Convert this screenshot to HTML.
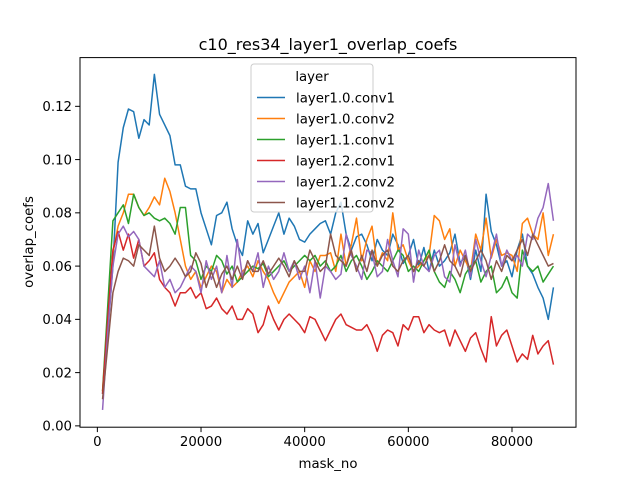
<!DOCTYPE html>
<html><head><meta charset="utf-8"><style>
body{margin:0;background:#fff}
svg text{font-family:"DejaVu Sans","Liberation Sans",sans-serif;fill:#000}
</style></head><body>
<svg id="chart" width="640" height="480" xmlns="http://www.w3.org/2000/svg">
<rect width="640" height="480" fill="#fff"/>
<text x="328" y="50" font-size="16" text-anchor="middle">c10_res34_layer1_overlap_coefs</text>
<text x="328" y="468" font-size="13.3" text-anchor="middle">mask_no</text>
<text transform="translate(33,242) rotate(-90)" font-size="13.3" text-anchor="middle">overlap_coefs</text>
<g id="ticks"></g>
<g id="lines"></g>
<rect x="80" y="57.6" width="496" height="369.6" fill="none" stroke="#000" stroke-width="1"/>
<g id="legend"></g>
</svg>
<script>
const maskNo = [];
for (let i = 1; i <= 88; i++) maskNo.push(i * 1000);
const seriesNames = ["layer1.0.conv1","layer1.0.conv2","layer1.1.conv1","layer1.2.conv1","layer1.2.conv2","layer1.1.conv2"];
const seriesColors = ["#1f77b4","#ff7f0e","#2ca02c","#d62728","#9467bd","#8c564b"];
const xTicks = [0,20000,40000,60000,80000];
const yTicks = [0,0.02,0.04,0.06,0.08,0.10,0.12];
const s10 = [0.012,0.035,0.060,0.099,0.112,0.119,0.118,0.108,0.115,0.113,
0.132,0.117,0.113,0.109,0.098,0.098,0.090,0.089,0.089,0.080,
0.074,0.068,0.079,0.080,0.084,0.074,0.068,0.064,0.077,0.072,
0.076,0.065,0.070,0.075,0.080,0.072,0.078,0.075,0.070,0.069,
0.072,0.074,0.076,0.077,0.072,0.080,0.084,0.072,0.066,0.071,
0.072,0.068,0.062,0.070,0.066,0.064,0.072,0.068,0.061,0.064,
0.070,0.060,0.067,0.058,0.066,0.060,0.062,0.065,0.072,0.061,
0.064,0.055,0.066,0.058,0.087,0.073,0.068,0.060,0.062,0.056,
0.066,0.072,0.060,0.057,0.052,0.048,0.040,0.052];
const s11 = [0.013,0.040,0.065,0.075,0.080,0.087,0.087,0.082,0.079,0.082,
0.086,0.083,0.093,0.088,0.080,0.070,0.060,0.055,0.058,0.052,
0.056,0.060,0.058,0.050,0.055,0.052,0.054,0.058,0.060,0.056,
0.062,0.058,0.055,0.050,0.046,0.050,0.054,0.056,0.058,0.052,
0.062,0.058,0.064,0.064,0.065,0.058,0.072,0.060,0.068,0.078,
0.062,0.070,0.075,0.060,0.065,0.062,0.080,0.066,0.068,0.062,
0.058,0.060,0.062,0.064,0.079,0.077,0.070,0.074,0.060,0.066,
0.062,0.058,0.072,0.066,0.078,0.063,0.070,0.064,0.065,0.064,
0.058,0.076,0.078,0.072,0.070,0.080,0.064,0.072];
const s12 = [0.013,0.045,0.077,0.080,0.083,0.076,0.087,0.082,0.079,0.080,
0.078,0.077,0.078,0.076,0.072,0.082,0.082,0.064,0.062,0.055,
0.060,0.058,0.064,0.062,0.057,0.060,0.054,0.056,0.058,0.060,
0.059,0.061,0.056,0.058,0.060,0.062,0.058,0.060,0.062,0.064,
0.062,0.064,0.060,0.062,0.058,0.060,0.064,0.058,0.062,0.064,
0.060,0.055,0.058,0.062,0.060,0.058,0.062,0.066,0.064,0.058,
0.060,0.058,0.062,0.066,0.058,0.054,0.052,0.058,0.055,0.050,
0.057,0.060,0.062,0.054,0.058,0.060,0.050,0.052,0.056,0.050,
0.048,0.066,0.060,0.058,0.060,0.054,0.057,0.060];
const s13 = [0.012,0.040,0.066,0.073,0.066,0.072,0.063,0.070,0.060,0.062,
0.065,0.055,0.052,0.050,0.045,0.050,0.050,0.052,0.048,0.050,
0.044,0.045,0.048,0.044,0.042,0.045,0.040,0.040,0.044,0.042,
0.035,0.038,0.045,0.040,0.036,0.040,0.042,0.040,0.038,0.035,
0.041,0.040,0.036,0.032,0.036,0.040,0.042,0.038,0.037,0.036,
0.036,0.038,0.034,0.028,0.034,0.036,0.035,0.030,0.038,0.036,
0.041,0.041,0.035,0.038,0.036,0.035,0.036,0.030,0.036,0.032,
0.028,0.033,0.035,0.029,0.024,0.041,0.030,0.034,0.036,0.030,
0.024,0.027,0.025,0.034,0.027,0.030,0.032,0.023];
const s14 = [0.006,0.035,0.060,0.072,0.075,0.071,0.073,0.070,0.060,0.058,
0.056,0.062,0.052,0.055,0.050,0.052,0.056,0.060,0.058,0.050,
0.062,0.055,0.060,0.050,0.064,0.052,0.070,0.056,0.062,0.058,
0.065,0.052,0.060,0.055,0.058,0.065,0.058,0.062,0.055,0.060,
0.050,0.062,0.048,0.060,0.058,0.055,0.057,0.072,0.064,0.060,
0.055,0.066,0.065,0.056,0.058,0.070,0.062,0.056,0.074,0.072,
0.054,0.066,0.060,0.058,0.064,0.066,0.056,0.054,0.068,0.060,
0.066,0.056,0.070,0.062,0.056,0.064,0.072,0.060,0.066,0.062,
0.064,0.060,0.072,0.070,0.078,0.082,0.091,0.077];
const s15 = [0.010,0.030,0.050,0.058,0.063,0.062,0.060,0.068,0.066,0.064,
0.075,0.063,0.058,0.060,0.063,0.060,0.056,0.058,0.065,0.061,
0.052,0.058,0.052,0.057,0.060,0.055,0.060,0.055,0.062,0.058,
0.058,0.062,0.057,0.060,0.063,0.060,0.056,0.062,0.058,0.058,
0.066,0.062,0.058,0.060,0.072,0.064,0.062,0.060,0.066,0.058,
0.064,0.058,0.066,0.060,0.064,0.066,0.060,0.058,0.062,0.064,
0.058,0.062,0.060,0.064,0.058,0.062,0.068,0.062,0.060,0.056,
0.064,0.058,0.062,0.066,0.062,0.055,0.062,0.058,0.064,0.062,
0.066,0.070,0.064,0.072,0.068,0.064,0.060,0.061];
const seriesData = [s10,s11,s12,s13,s14,s15];

const NS = "http://www.w3.org/2000/svg";
const X0 = 80, X1 = 576, Y0 = 57.6, Y1 = 427.2;
const xMin = -3350, xMax = 92350, yMin = -0.0005, yMax = 0.1383;
function xs(v){ return X0 + (v - xMin) / (xMax - xMin) * (X1 - X0); }
function ys(v){ return Y1 - (v - yMin) / (yMax - yMin) * (Y1 - Y0); }

const tg = document.getElementById("ticks");
xTicks.forEach(t => {
  const l = document.createElementNS(NS, "line");
  l.setAttribute("x1", xs(t)); l.setAttribute("x2", xs(t));
  l.setAttribute("y1", Y1); l.setAttribute("y2", Y1 + 4.9);
  l.setAttribute("stroke", "#000");
  
  
  tg.appendChild(l);
  const tx = document.createElementNS(NS, "text");
  tx.setAttribute("x", xs(t)); tx.setAttribute("y", Y1 + 19);
  tx.setAttribute("font-size", "13.3"); tx.setAttribute("text-anchor", "middle");
  tx.textContent = String(t);
  
  
  tg.appendChild(tx);
});
yTicks.forEach(t => {
  const l = document.createElementNS(NS, "line");
  l.setAttribute("x1", X0 - 4.9); l.setAttribute("x2", X0);
  l.setAttribute("y1", ys(t)); l.setAttribute("y2", ys(t));
  l.setAttribute("stroke", "#000");
  
  
  tg.appendChild(l);
  const tx = document.createElementNS(NS, "text");
  tx.setAttribute("x", X0 - 8); tx.setAttribute("y", ys(t) + 4.8);
  tx.setAttribute("font-size", "13.3"); tx.setAttribute("text-anchor", "end");
  tx.textContent = t.toFixed(2);
  
  
  tg.appendChild(tx);
});

const lg = document.getElementById("lines");
seriesData.forEach((arr, k) => {
  const p = document.createElementNS(NS, "polyline");
  p.setAttribute("points", arr.map((v, i) => xs(maskNo[i]).toFixed(2) + "," + ys(v).toFixed(2)).join(" "));
  p.setAttribute("fill", "none");
  p.setAttribute("stroke", seriesColors[k]);
  p.setAttribute("stroke-width", "1.5");
  p.setAttribute("stroke-linejoin", "round");
  
  
  lg.appendChild(p);
});

const leg = document.getElementById("legend");
const box = document.createElementNS(NS, "rect");
box.setAttribute("x", 251); box.setAttribute("y", 64);
box.setAttribute("width", 122); box.setAttribute("height", 148);
box.setAttribute("rx", 3);
box.setAttribute("fill", "#fff"); box.setAttribute("fill-opacity", "0.8");
box.setAttribute("stroke", "#ccc");


leg.appendChild(box);
const lt = document.createElementNS(NS, "text");
lt.setAttribute("x", 312); lt.setAttribute("y", 81);
lt.setAttribute("font-size", "13.3"); lt.setAttribute("text-anchor", "middle");
lt.textContent = "layer";


leg.appendChild(lt);
seriesNames.forEach((n, k) => {
  const yy = 97.5 + k * 21;
  const l = document.createElementNS(NS, "line");
  l.setAttribute("x1", 257); l.setAttribute("x2", 285);
  l.setAttribute("y1", yy); l.setAttribute("y2", yy);
  l.setAttribute("stroke", seriesColors[k]); l.setAttribute("stroke-width", "1.5");
  
  
  leg.appendChild(l);
  const t = document.createElementNS(NS, "text");
  t.setAttribute("x", 296); t.setAttribute("y", yy + 4.8);
  t.setAttribute("font-size", "13.3");
  t.textContent = n;
  
  
  leg.appendChild(t);
});
</script>
</body></html>
